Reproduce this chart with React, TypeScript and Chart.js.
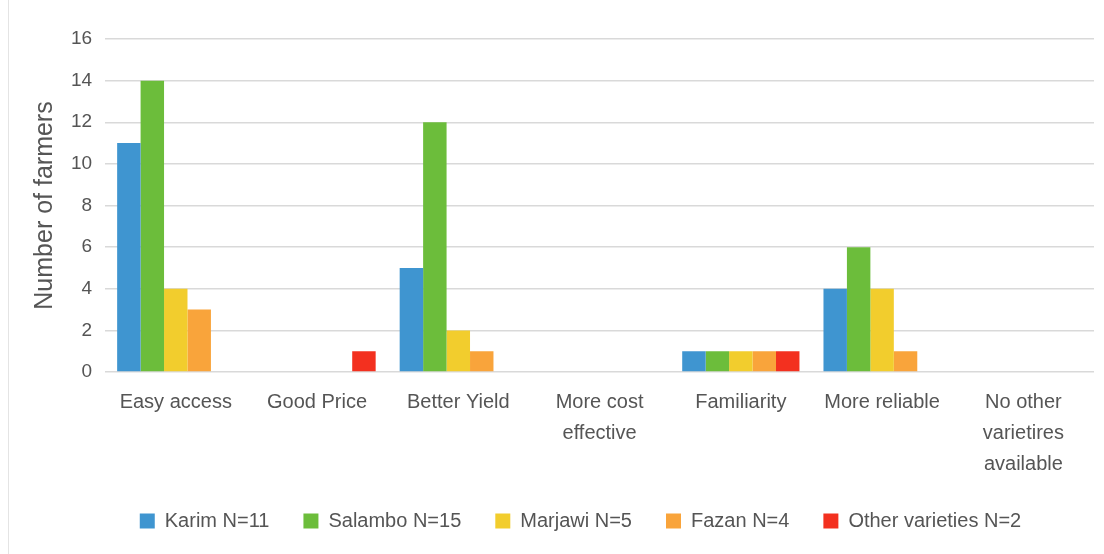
import React, { useEffect, useRef } from "react";
import { Chart, registerables } from "chart.js";

Chart.register(...registerables);

const categories: (string | string[])[] = [
  "Easy access",
  "Good Price",
  "Better Yield",
  ["More cost", "effective"],
  "Familiarity",
  "More reliable",
  ["No other", "varietires", "available"],
];
const karim = [11, 0, 5, 0, 1, 4, 0];
const salambo = [14, 0, 12, 0, 1, 6, 0];
const marjawi = [4, 0, 2, 0, 1, 4, 0];
const fazan = [3, 0, 1, 0, 1, 1, 0];
const other = [0, 1, 0, 0, 1, 0, 0];
const seriesNames = ["Karim N=11", "Salambo N=15", "Marjawi N=5", "Fazan N=4", "Other varieties N=2"];
const colors = ["#3f95d0", "#6cbd3b", "#f2cd2d", "#f9a43b", "#f3301f"];
const yTicks = [0, 2, 4, 6, 8, 10, 12, 14, 16];

const legendShift = {
  id: "legendShift",
  afterLayout(chart: any) {
    if (chart.legend) {
      chart.legend.left += 20;
      chart.legend.right += 20;
    }
  },
};

export default function App() {
  const ref = useRef<HTMLCanvasElement>(null);
  useEffect(() => {
    const font = "'Liberation Sans', Arial, sans-serif";
    const values = [karim, salambo, marjawi, fazan, other];
    const chart = new Chart(ref.current!, {
      type: "bar",
      data: {
        labels: categories,
        datasets: values.map((v, i) => ({
          label: seriesNames[i],
          data: v,
          backgroundColor: colors[i],
          borderWidth: 0,
          barPercentage: 1,
          categoryPercentage: 0.83,
        })),
      },
      plugins: [legendShift],
      options: {
        animation: false,
        responsive: false,
        maintainAspectRatio: false,
        layout: { padding: { top: 39, right: 10, left: 27, bottom: 13 } },
        plugins: {
          tooltip: { enabled: false },
          legend: {
            position: "bottom",
            labels: {
              boxWidth: 15,
              boxHeight: 15,
              padding: 34,
              color: "#555",
              font: { family: font, size: 20 },
            },
          },
        },
        scales: {
          x: {
            grid: { display: false },
            border: { display: false },
            afterFit: (scale: any) => {
              scale.height = 105;
            },
            ticks: {
              color: "#555",
              font: { family: font, size: 20, lineHeight: 1.55 },
              maxRotation: 0,
              autoSkip: false,
              padding: 7,
            },
          },
          y: {
            min: 0,
            max: 16,
            afterBuildTicks: (axis: any) => {
              axis.ticks = yTicks.map((v) => ({ value: v }));
            },
            grid: { color: "#d9d9d9", lineWidth: 1.5, drawTicks: false },
            border: { display: false },
            ticks: {
              color: "#555",
              font: { family: font, size: 19 },
              padding: 13,
            },
            title: {
              display: true,
              text: "Number of farmers",
              color: "#555",
              font: { family: font, size: 25, lineHeight: 1 },
              padding: { top: 6, bottom: 0 },
            },
          },
        },
      },
    });
    return () => chart.destroy();
  }, []);
  return (
    <div
      style={{
        position: "fixed",
        left: 0,
        top: 0,
        width: 1104,
        height: 554,
        background: "#fff",
      }}
    >
      <div
        style={{
          position: "absolute",
          left: 8,
          top: 0,
          width: 1,
          height: 554,
          background: "#e4e4e4",
        }}
      />
      <canvas ref={ref} width={1104} height={554} style={{ display: "block" }} />
    </div>
  );
}
